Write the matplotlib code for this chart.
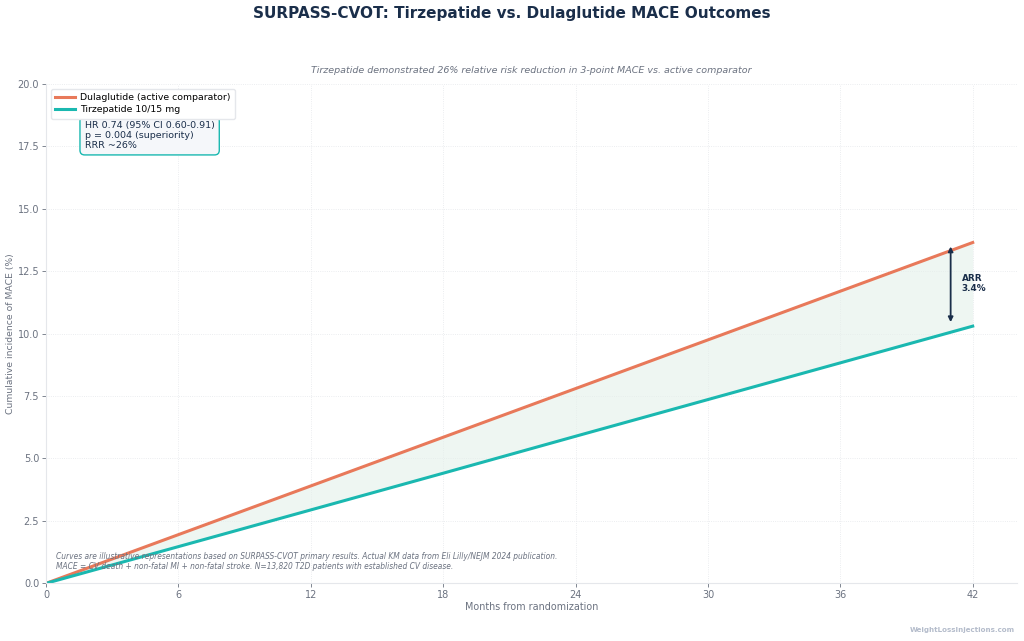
import matplotlib.pyplot as plt

plt.rcParams['font.family'] = ['DejaVu Sans']

# dati
months = [0, 6, 12, 18, 24, 30, 36, 42]
dulaglutide = [0, 1.95, 3.9, 5.85, 7.8, 9.75, 11.7, 13.65]
tirzepatide = [0, 1.47, 2.94, 4.41, 5.89, 7.36, 8.83, 10.3]
x_ticks = [0, 6, 12, 18, 24, 30, 36, 42]
arr_month = 41

navy = '#1a2e4a'
grey = '#6b7280'
coral = '#e8795a'
teal = '#1ab8b0'

fig = plt.figure(figsize=(10.24, 6.41), dpi=100)
ax = fig.add_axes([0.045, 0.09, 0.948, 0.779])

ax.fill_between(months, tirzepatide, dulaglutide, color='#e4f0ea', alpha=0.6, lw=0)
ax.plot(months, dulaglutide, color=coral, lw=2.2, label='Dulaglutide (active comparator)')
ax.plot(months, tirzepatide, color=teal, lw=2.2, label='Tirzepatide 10/15 mg')

# freccia ARR
ax.annotate('', xy=(arr_month, dulaglutide[-1] - 0.05), xytext=(arr_month, tirzepatide[-1] + 0.05),
            arrowprops=dict(arrowstyle='<|-|>', color=navy, lw=1.3, mutation_scale=7))
ax.text(arr_month + 0.5, 12.0, 'ARR\n3.4%', fontsize=6.4, fontweight='bold', color=navy,
        va='center', ha='left')

ax.set_xlim(0, 44)
ax.set_ylim(0, 20)
ax.set_xticks(x_ticks)
ax.set_yticks([0, 2.5, 5, 7.5, 10, 12.5, 15, 17.5, 20])
ax.set_yticklabels(['0.0', '2.5', '5.0', '7.5', '10.0', '12.5', '15.0', '17.5', '20.0'])
ax.tick_params(colors=grey, labelsize=7, length=3, width=0.6, pad=2)
for s in ['top', 'right']:
    ax.spines[s].set_visible(False)
for s in ['left', 'bottom']:
    ax.spines[s].set_color('#e5e7eb')
ax.grid(True, linestyle=':', color='#e5e7eb', lw=0.6)
ax.set_axisbelow(True)

ax.set_xlabel('Months from randomization', fontsize=6.9, color=grey, labelpad=1.5)
ax.set_ylabel('Cumulative incidence of MACE (%)', fontsize=6.7, color=grey, labelpad=1.5)

# box statistiche (in parte coperto dalla legenda, come nell'originale)
ax.text(1.75, 17.93, 'HR 0.74 (95% CI 0.60-0.91)\np = 0.004 (superiority)\nRRR ~26%',
        fontsize=6.8, color=navy, va='center', ha='left', linespacing=1.15,
        bbox=dict(boxstyle='round,pad=0.5', fc='#f5f7fa', ec=teal, lw=1))

leg = ax.legend(loc='upper left', fontsize=6.75, frameon=True, borderpad=0.45,
                labelspacing=0.38, handlelength=2.1, handletextpad=0.6,
                bbox_to_anchor=(0.0, 1.0))
leg.get_frame().set_edgecolor('#e5e7eb')
leg.get_frame().set_alpha(1)
leg.set_zorder(10)

ax.text(0.01, 0.025, 'Curves are illustrative representations based on SURPASS-CVOT primary results. '
        'Actual KM data from Eli Lilly/NEJM 2024 publication.\n'
        'MACE = CV death + non-fatal MI + non-fatal stroke. N=13,820 T2D patients with established CV disease.',
        transform=ax.transAxes, fontsize=5.45, style='italic', color=grey, va='bottom', ha='left',
        linespacing=1.15)

ax.set_title('Tirzepatide demonstrated 26% relative risk reduction in 3-point MACE vs. active comparator',
             fontsize=6.8, style='italic', color=grey, pad=8)
fig.suptitle('SURPASS-CVOT: Tirzepatide vs. Dulaglutide MACE Outcomes', fontsize=11.0,
             fontweight='bold', color=navy, y=0.99)

fig.text(0.991, 0.012, 'WeightLossInjections.com', fontsize=5.1, fontweight='bold',
         color='#b4bccb', ha='right', va='bottom')

fig.savefig('out.png', dpi=100)
